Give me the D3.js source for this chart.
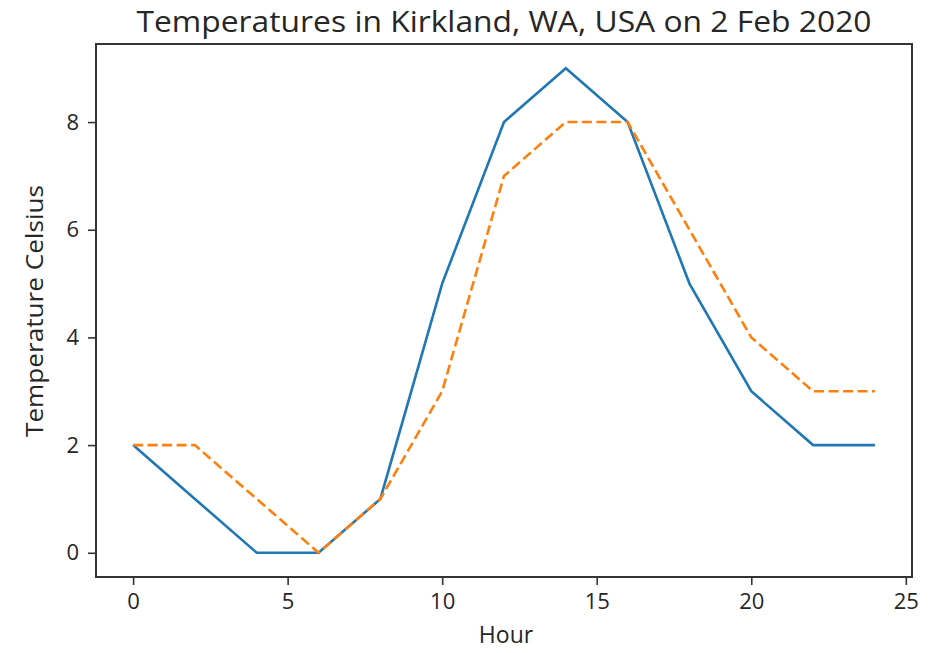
<!DOCTYPE html>
<html><head><meta charset="utf-8">
<script src="https://cdn.jsdelivr.net/npm/d3@7"></script>
<style>body{margin:0;background:#fff}svg{display:block}text{font-family:"Open Sans",sans-serif;fill:#262626}</style>
</head><body><svg id="c" width="931" height="653"></svg>
<script>
const hours = [0,2,4,6,8,10,12,14,16,18,20,22,24];
const actualTemps = [2,1,0,0,1,5,8,9,8,5,3,2,2];
const forecastTemps = [2,2,1,0,1,3,7,8,8,6,4,3,3];
const xTicks = [0,5,10,15,20,25];
const yTicks = [0,2,4,6,8];
const titleText = "Temperatures in Kirkland, WA, USA on 2 Feb 2020";
const xLabel = "Hour";
const yLabel = "Temperature Celsius";

const svg = d3.select("#c");
const L=96,R=912,T=44,B=577;
const x = d3.scaleLinear().domain([-1.2,25.2]).range([L,R]);
const y = d3.scaleLinear().domain([-0.45,9.45]).range([B,T]);

const xa = svg.append("g").attr("transform",`translate(0,${B})`)
  .call(d3.axisBottom(x).tickValues(xTicks).tickSize(8).tickPadding(8).tickFormat(d3.format("d")));
const ya = svg.append("g").attr("transform",`translate(${L},0)`)
  .call(d3.axisLeft(y).tickValues(yTicks).tickSize(8).tickPadding(9).tickFormat(d3.format("d")));
[xa,ya].forEach(a=>{a.select(".domain").remove();a.selectAll("line").attr("stroke","#333").attr("stroke-width",1.6);
  a.selectAll("text").attr("font-size",22).attr("fill","#262626").style("font-family","Open Sans");});

const line = d3.line().x((d,i)=>x(hours[i])).y(d=>y(d));
svg.append("path").datum(actualTemps).attr("d",line).attr("fill","none").attr("stroke","#1f77b4").attr("stroke-width",2.6);
svg.append("path").datum(forecastTemps).attr("d",line).attr("fill","none").attr("stroke","#ff7f0e").attr("stroke-width",2.6).attr("stroke-dasharray","10,4.5");

svg.append("rect").attr("x",L).attr("y",T).attr("width",R-L).attr("height",B-T).attr("fill","none").attr("stroke","#333").attr("stroke-width",2);

svg.append("text").attr("x",(L+R)/2).attr("y",32).attr("text-anchor","middle").attr("font-size",30).attr("textLength",735).attr("lengthAdjust","spacingAndGlyphs").text(titleText);
svg.append("text").attr("x",(L+R)/2+2).attr("y",643).attr("text-anchor","middle").attr("font-size",23).text(xLabel);
svg.append("text").attr("transform",`translate(43,311) rotate(-90)`).attr("text-anchor","middle").attr("font-size",24).attr("textLength",252).attr("lengthAdjust","spacingAndGlyphs").text(yLabel);
</script></body></html>
